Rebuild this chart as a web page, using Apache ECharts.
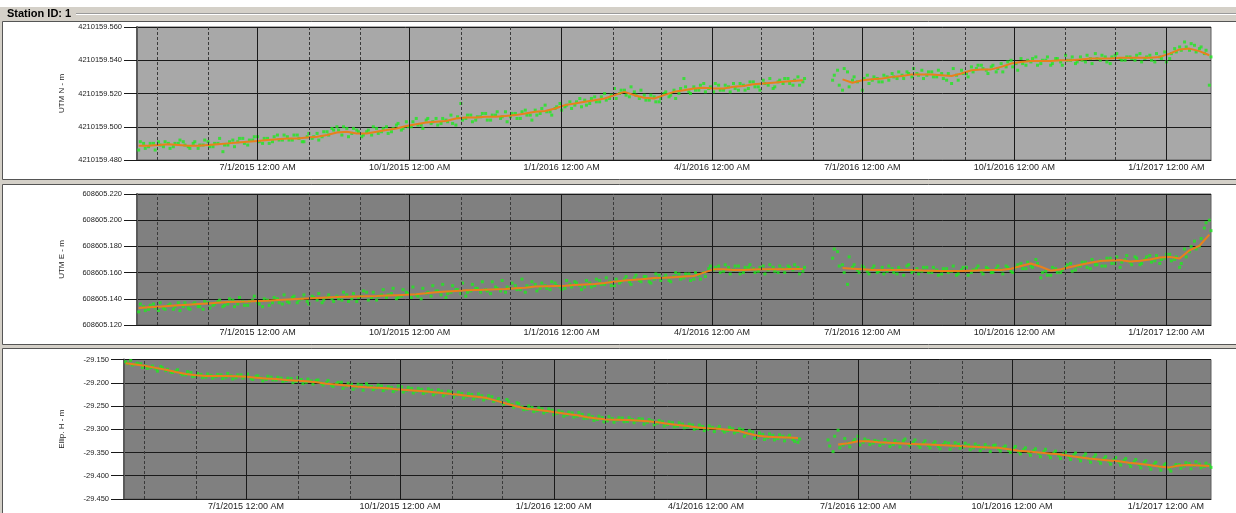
<!DOCTYPE html>
<html><head><meta charset="utf-8">
<script src="https://cdn.jsdelivr.net/npm/echarts@6/dist/echarts.min.js"></script>
<style>html,body{margin:0;padding:0;background:#fff}#c{width:1236px;height:513px}</style>
</head><body><div id="c"></div>
<script>
// ---- axis range & tick labels ----
const axisStart = [2015, 3, 19];
const axisEnd = [2017, 0, 28];
const gridMonths = ['2015-05','2015-06','2015-07','2015-08','2015-09','2015-10','2015-11','2015-12','2016-01','2016-02','2016-03','2016-04','2016-05','2016-06','2016-07','2016-08','2016-09','2016-10','2016-11','2016-12','2017-01'];
const xTickMonths = ['2015-07','2015-10','2016-01','2016-04','2016-07','2016-10','2017-01'];
const xTickLabels = ['7/1/2015 12:00 AM','10/1/2015 12:00 AM','1/1/2016 12:00 AM','4/1/2016 12:00 AM','7/1/2016 12:00 AM','10/1/2016 12:00 AM','1/1/2017 12:00 AM'];
const yTitles = ['UTM N - m','UTM E - m','Ellip. H - m'];
// sampling dates: first sample 2015-04-20; smoothed every 6 days; raw set A every 3 days, raw set B every 3 days starting one day later
const firstDay = [2015, 3, 20];
const smoothStepDays = 6;
const rawStepDays = 3;

// ---- smoothed (orange) values ----
const northSmooth = [4210159.4885,4210159.4885,4210159.489,4210159.4895,4210159.489,4210159.4885,4210159.4885,4210159.489,4210159.4895,4210159.490,4210159.4905,4210159.491,4210159.4915,4210159.492,4210159.4925,4210159.493,4210159.493,4210159.4935,4210159.494,4210159.495,4210159.4965,4210159.497,4210159.496,4210159.496,4210159.497,4210159.498,4210159.499,4210159.5005,4210159.5015,4210159.5025,4210159.503,4210159.5035,4210159.505,4210159.5055,4210159.5055,4210159.506,4210159.506,4210159.5065,4210159.507,4210159.508,4210159.509,4210159.5095,4210159.511,4210159.513,4210159.514,4210159.515,4210159.516,4210159.517,4210159.519,4210159.521,4210159.519,4210159.5175,4210159.517,4210159.519,4210159.521,4210159.522,4210159.523,4210159.5235,4210159.523,4210159.523,4210159.524,4210159.5245,4210159.5255,4210159.526,4210159.5265,4210159.527,4210159.5275,4210159.528,null,null,null,4210159.5285,4210159.5265,4210159.528,4210159.5285,4210159.529,4210159.530,4210159.5305,4210159.5315,4210159.5315,4210159.5315,4210159.531,4210159.5305,4210159.532,4210159.534,4210159.5345,4210159.5345,4210159.536,4210159.538,4210159.539,4210159.5395,4210159.5395,4210159.5395,4210159.540,4210159.540,4210159.5405,4210159.541,4210159.541,4210159.541,4210159.5415,4210159.5415,4210159.5415,4210159.5415,4210159.542,4210159.544,4210159.5465,4210159.547,4210159.5455,4210159.543];
const eastSmooth = [608605.133,608605.1335,608605.134,608605.1345,608605.135,608605.1355,608605.136,608605.1365,608605.137,608605.1375,608605.1378,608605.138,608605.1383,608605.1386,608605.139,608605.1394,608605.1398,608605.1402,608605.1406,608605.141,608605.1414,608605.1416,608605.1418,608605.142,608605.1422,608605.1425,608605.1428,608605.143,608605.1435,608605.1442,608605.145,608605.1455,608605.146,608605.1465,608605.1468,608605.147,608605.1472,608605.1475,608605.148,608605.1485,608605.1493,608605.1496,608605.1498,608605.150,608605.1505,608605.151,608605.1513,608605.152,608605.153,608605.154,608605.1546,608605.1552,608605.1558,608605.156,608605.1565,608605.157,608605.1574,608605.160,608605.1625,608605.1625,608605.162,608605.162,608605.1623,608605.1625,608605.1625,608605.1626,608605.1627,608605.1627,null,null,null,608605.1635,608605.163,608605.1625,608605.162,608605.162,608605.162,608605.162,608605.162,608605.1616,608605.1614,608605.1612,608605.1612,608605.1612,608605.1615,608605.1618,608605.162,608605.162,608605.163,608605.165,608605.167,608605.1645,608605.1615,608605.1625,608605.1643,608605.166,608605.1675,608605.1689,608605.1693,608605.1696,608605.1685,608605.169,608605.170,608605.1715,608605.172,608605.1708,608605.177,608605.1805,608605.189];
const heightSmooth = [-29.158,-29.161,-29.164,-29.168,-29.172,-29.177,-29.181,-29.184,-29.1855,-29.1855,-29.1855,-29.186,-29.187,-29.189,-29.191,-29.192,-29.194,-29.1955,-29.197,-29.199,-29.202,-29.204,-29.206,-29.208,-29.2095,-29.2105,-29.212,-29.214,-29.2155,-29.217,-29.219,-29.221,-29.223,-29.2255,-29.228,-29.230,-29.233,-29.239,-29.245,-29.251,-29.256,-29.258,-29.261,-29.264,-29.267,-29.270,-29.274,-29.277,-29.279,-29.2795,-29.280,-29.281,-29.283,-29.285,-29.288,-29.291,-29.293,-29.296,-29.298,-29.299,-29.301,-29.303,-29.309,-29.314,-29.316,-29.317,-29.318,-29.319,null,null,null,-29.333,-29.330,-29.326,-29.326,-29.328,-29.329,-29.330,-29.331,-29.332,-29.333,-29.334,-29.335,-29.336,-29.337,-29.338,-29.339,-29.340,-29.343,-29.346,-29.348,-29.350,-29.352,-29.354,-29.357,-29.360,-29.363,-29.365,-29.367,-29.369,-29.372,-29.374,-29.377,-29.380,-29.382,-29.378,-29.377,-29.378,-29.379];

// ---- raw daily solutions (green), set A ----
const northRawA = [4210159.486,4210159.490,4210159.488,4210159.490,4210159.491,4210159.488,4210159.490,4210159.488,4210159.490,4210159.491,
4210159.488,4210159.490,4210159.487,4210159.489,4210159.491,4210159.488,4210159.490,4210159.485,4210159.489,4210159.492,
4210159.491,4210159.493,4210159.489,4210159.492,4210159.494,4210159.490,4210159.493,4210159.491,4210159.495,4210159.492,
4210159.494,4210159.492,4210159.495,4210159.491,4210159.494,4210159.493,4210159.496,4210159.494,4210159.497,4210159.499,
4210159.500,4210159.495,4210159.499,4210159.496,4210159.498,4210159.494,4210159.497,4210159.495,4210159.499,4210159.497,
4210159.500,4210159.497,4210159.501,4210159.498,4210159.503,4210159.500,4210159.505,4210159.501,4210159.504,4210159.502,
4210159.505,4210159.502,4210159.504,4210159.507,4210159.501,4210159.514,4210159.505,4210159.507,4210159.504,4210159.506,
4210159.508,4210159.504,4210159.507,4210159.505,4210159.509,4210159.506,4210159.508,4210159.505,4210159.510,4210159.507,
4210159.510,4210159.508,4210159.513,4210159.509,4210159.511,4210159.514,4210159.512,4210159.515,4210159.513,4210159.517,
4210159.516,4210159.514,4210159.518,4210159.515,4210159.520,4210159.517,4210159.523,4210159.520,4210159.522,4210159.518,
4210159.521,4210159.517,4210159.519,4210159.516,4210159.518,4210159.515,4210159.520,4210159.518,4210159.522,4210159.520,
4210159.529,4210159.521,4210159.524,4210159.522,4210159.526,4210159.523,4210159.521,4210159.525,4210159.522,4210159.524,
4210159.526,4210159.522,4210159.525,4210159.523,4210159.527,4210159.524,4210159.528,4210159.525,4210159.523,4210159.527,
4210159.526,4210159.529,4210159.525,4210159.530,4210159.527,null,null,null,null,null,
4210159.528,4210159.534,4210159.522,4210159.533,4210159.528,4210159.527,4210159.522,4210159.531,4210159.528,4210159.529,
4210159.527,4210159.530,4210159.532,4210159.529,4210159.531,4210159.533,4210159.530,4210159.532,4210159.534,4210159.531,
4210159.533,4210159.530,4210159.532,4210159.528,4210159.526,4210159.531,4210159.534,4210159.532,4210159.536,4210159.535,
4210159.537,4210159.534,4210159.536,4210159.533,4210159.538,4210159.536,4210159.540,4210159.538,4210159.541,4210159.537,
4210159.539,4210159.542,4210159.538,4210159.540,4210159.537,4210159.541,4210159.539,4210159.543,4210159.540,4210159.538,
4210159.542,4210159.539,4210159.541,4210159.544,4210159.540,4210159.542,4210159.538,4210159.543,4210159.541,4210159.540,
4210159.542,4210159.540,4210159.544,4210159.541,4210159.543,4210159.539,4210159.542,4210159.545,4210159.541,4210159.547,
4210159.548,4210159.551,4210159.546,4210159.549,4210159.547,4210159.544,4210159.525];
const eastRawA = [608605.130,608605.134,608605.132,608605.136,608605.131,608605.133,608605.135,608605.132,608605.137,608605.134,
608605.133,608605.136,608605.134,608605.132,608605.137,608605.135,608605.138,608605.134,608605.136,608605.139,
608605.136,608605.138,608605.135,608605.139,608605.137,608605.134,608605.139,608605.137,608605.140,608605.136,
608605.138,608605.141,608605.137,608605.140,608605.138,608605.142,608605.139,608605.137,608605.141,608605.140,
608605.142,608605.139,608605.143,608605.140,608605.138,608605.142,608605.145,608605.141,608605.139,608605.143,
608605.141,608605.144,608605.140,608605.142,608605.145,608605.141,608605.143,608605.140,608605.144,608605.142,
608605.146,608605.143,608605.141,608605.145,608605.147,608605.144,608605.142,608605.146,608605.148,608605.145,
608605.147,608605.144,608605.149,608605.146,608605.145,608605.148,608605.150,608605.147,608605.145,608605.149,
608605.151,608605.148,608605.150,608605.147,608605.152,608605.149,608605.148,608605.151,608605.153,608605.150,
608605.149,608605.152,608605.150,608605.154,608605.151,608605.153,608605.150,608605.152,608605.155,608605.153,
608605.156,608605.154,608605.157,608605.153,608605.155,608605.158,608605.156,608605.154,608605.157,608605.159,
608605.156,608605.159,608605.155,608605.158,608605.160,608605.163,608605.162,608605.165,608605.161,608605.164,
608605.162,608605.165,608605.160,608605.164,608605.163,608605.161,608605.165,608605.162,608605.164,608605.160,
608605.163,608605.165,608605.162,608605.164,608605.161,null,null,null,null,null,
608605.171,608605.176,608605.166,608605.151,608605.164,608605.162,608605.165,608605.161,608605.163,608605.160,
608605.164,608605.161,608605.163,608605.159,608605.162,608605.165,608605.160,608605.163,608605.161,608605.164,
608605.160,608605.162,608605.159,608605.163,608605.161,608605.158,608605.162,608605.164,608605.160,608605.163,
608605.161,608605.164,608605.160,608605.163,608605.162,608605.165,608605.161,608605.164,608605.167,608605.163,
608605.165,608605.170,608605.156,608605.161,608605.158,608605.163,608605.160,608605.164,608605.167,608605.162,
608605.165,608605.168,608605.163,608605.166,608605.169,608605.165,608605.171,608605.167,608605.164,608605.170,
608605.168,608605.172,608605.166,608605.170,608605.173,608605.169,608605.167,608605.171,608605.174,608605.170,
608605.164,608605.178,608605.176,608605.184,608605.180,608605.194,608605.200];
const heightRawA = [-29.155,-29.152,-29.160,-29.159,-29.164,-29.167,-29.170,-29.165,-29.174,-29.177,
-29.175,-29.180,-29.183,-29.178,-29.186,-29.182,-29.188,-29.184,-29.187,-29.183,
-29.188,-29.185,-29.189,-29.183,-29.187,-29.191,-29.186,-29.190,-29.193,-29.188,
-29.194,-29.190,-29.195,-29.191,-29.197,-29.193,-29.199,-29.196,-29.195,-29.201,
-29.200,-29.205,-29.202,-29.199,-29.207,-29.203,-29.209,-29.205,-29.202,-29.208,
-29.211,-29.207,-29.213,-29.210,-29.215,-29.209,-29.216,-29.212,-29.218,-29.214,
-29.220,-29.216,-29.222,-29.218,-29.224,-29.220,-29.226,-29.223,-29.229,-29.225,
-29.231,-29.228,-29.234,-29.230,-29.238,-29.242,-29.236,-29.247,-29.243,-29.252,
-29.257,-29.253,-29.260,-29.256,-29.262,-29.259,-29.266,-29.263,-29.269,-29.265,
-29.272,-29.268,-29.276,-29.273,-29.279,-29.275,-29.282,-29.277,-29.280,-29.276,
-29.283,-29.279,-29.281,-29.278,-29.285,-29.282,-29.287,-29.284,-29.290,-29.286,
-29.293,-29.289,-29.295,-29.291,-29.298,-29.294,-29.300,-29.296,-29.298,-29.302,
-29.303,-29.299,-29.305,-29.301,-29.310,-29.306,-29.315,-29.311,-29.318,-29.313,
-29.320,-29.315,-29.317,-29.322,-29.328,null,null,null,null,null,
-29.323,-29.348,-29.302,-29.334,-29.330,-29.326,-29.315,-29.328,-29.324,-29.330,
-29.326,-29.331,-29.327,-29.333,-29.329,-29.325,-29.332,-29.328,-29.334,-29.330,
-29.335,-29.331,-29.337,-29.333,-29.330,-29.336,-29.332,-29.338,-29.334,-29.340,
-29.336,-29.341,-29.338,-29.335,-29.342,-29.339,-29.345,-29.341,-29.348,-29.344,
-29.350,-29.346,-29.352,-29.348,-29.355,-29.351,-29.357,-29.353,-29.359,-29.355,
-29.362,-29.358,-29.364,-29.360,-29.367,-29.363,-29.369,-29.365,-29.371,-29.367,
-29.374,-29.370,-29.376,-29.372,-29.379,-29.375,-29.381,-29.377,-29.385,-29.380,
-29.376,-29.379,-29.374,-29.378,-29.375,-29.380,-29.377];

// ---- raw daily solutions (green), set B (one day after set A) ----
const northRawB = [4210159.491,4210159.487,4210159.490,4210159.486,4210159.489,4210159.491,4210159.487,4210159.490,4210159.492,4210159.489,
4210159.487,4210159.491,4210159.489,4210159.492,4210159.488,4210159.490,4210159.493,4210159.489,4210159.491,4210159.488,
4210159.493,4210159.490,4210159.492,4210159.494,4210159.491,4210159.493,4210159.490,4210159.494,4210159.492,4210159.495,
4210159.492,4210159.495,4210159.493,4210159.491,4210159.496,4210159.494,4210159.492,4210159.497,4210159.495,4210159.498,
4210159.498,4210159.500,4210159.494,4210159.499,4210159.497,4210159.495,4210159.498,4210159.500,4210159.496,4210159.499,
4210159.496,4210159.499,4210159.502,4210159.499,4210159.500,4210159.503,4210159.501,4210159.499,4210159.505,4210159.503,
4210159.501,4210159.505,4210159.503,4210159.502,4210159.506,4210159.504,4210159.507,4210159.503,4210159.506,4210159.508,
4210159.504,4210159.507,4210159.509,4210159.506,4210159.503,4210159.508,4210159.505,4210159.509,4210159.507,4210159.504,
4210159.507,4210159.511,4210159.509,4210159.507,4210159.512,4210159.510,4210159.513,4210159.511,4210159.515,4210159.512,
4210159.513,4210159.517,4210159.515,4210159.518,4210159.516,4210159.519,4210159.517,4210159.522,4210159.519,4210159.524,
4210159.519,4210159.522,4210159.516,4210159.519,4210159.515,4210159.517,4210159.521,4210159.519,4210159.517,4210159.523,
4210159.524,4210159.520,4210159.522,4210159.525,4210159.521,4210159.524,4210159.526,4210159.522,4210159.525,4210159.521,
4210159.523,4210159.526,4210159.522,4210159.527,4210159.524,4210159.522,4210159.526,4210159.529,4210159.524,4210159.528,
4210159.529,4210159.526,4210159.528,4210159.525,4210159.529,null,null,null,null,null,
4210159.531,4210159.525,4210159.535,4210159.524,4210159.530,null,4210159.529,4210159.526,4210159.530,4210159.527,
4210159.531,4210159.528,4210159.530,4210159.533,4210159.529,4210159.532,4210159.535,4210159.531,4210159.529,4210159.533,
4210159.530,4210159.534,4210159.529,4210159.532,4210159.535,4210159.528,4210159.532,4210159.530,4210159.533,4210159.537,
4210159.535,4210159.532,4210159.537,4210159.535,4210159.533,4210159.539,4210159.536,4210159.534,4210159.538,4210159.540,
4210159.541,4210159.537,4210159.540,4210159.542,4210159.538,4210159.541,4210159.537,4210159.540,4210159.542,4210159.539,
4210159.540,4210159.543,4210159.538,4210159.541,4210159.543,4210159.539,4210159.542,4210159.544,4210159.540,4210159.542,
4210159.541,4210159.543,4210159.539,4210159.542,4210159.540,4210159.544,4210159.541,4210159.539,4210159.544,4210159.545,
4210159.546,4210159.548,4210159.550,4210159.545,4210159.548,4210159.546,4210159.542];
const eastRawB = [608605.136,608605.131,608605.135,608605.133,608605.137,608605.132,608605.136,608605.134,608605.131,608605.137,
608605.132,608605.137,608605.134,608605.138,608605.133,608605.136,608605.139,608605.135,608605.140,608605.134,
608605.141,608605.135,608605.138,608605.142,608605.136,608605.140,608605.135,608605.141,608605.137,608605.143,
608605.137,608605.142,608605.139,608605.143,608605.136,608605.141,608605.144,608605.139,608605.143,608605.138,
608605.140,608605.145,608605.138,608605.144,608605.141,608605.146,608605.139,608605.145,608605.142,608605.147,
608605.143,608605.148,608605.141,608605.147,608605.144,608605.149,608605.142,608605.148,608605.145,608605.150,
608605.146,608605.151,608605.144,608605.150,608605.147,608605.152,608605.145,608605.151,608605.148,608605.153,
608605.146,608605.153,608605.148,608605.154,608605.149,608605.152,608605.147,608605.155,608605.150,608605.153,
608605.146,608605.152,608605.148,608605.153,608605.150,608605.147,608605.154,608605.149,608605.152,608605.147,
608605.154,608605.149,608605.155,608605.151,608605.156,608605.150,608605.155,608605.153,608605.157,608605.151,
608605.158,608605.153,608605.157,608605.152,608605.159,608605.154,608605.158,608605.153,608605.160,608605.155,
608605.159,608605.154,608605.160,608605.155,608605.157,608605.165,608605.164,608605.160,608605.166,608605.159,
608605.165,608605.159,608605.164,608605.166,608605.160,608605.164,608605.159,608605.166,608605.161,608605.165,
608605.160,608605.164,608605.166,608605.159,608605.164,null,null,null,null,null,
608605.178,608605.165,608605.160,608605.172,608605.166,608605.160,608605.164,608605.159,608605.165,608605.161,
608605.159,608605.165,608605.160,608605.164,608605.158,608605.166,608605.161,608605.159,608605.164,608605.160,
608605.164,608605.158,608605.163,608605.160,608605.165,608605.159,608605.164,608605.158,608605.162,608605.165,
608605.159,608605.163,608605.160,608605.165,608605.159,608605.164,608605.160,608605.166,608605.163,608605.168,
608605.164,608605.167,608605.160,608605.158,608605.164,608605.160,608605.162,608605.166,608605.161,608605.165,
608605.168,608605.164,608605.170,608605.166,608605.165,608605.171,608605.167,608605.172,608605.168,608605.173,
608605.166,608605.171,608605.167,608605.172,608605.168,608605.173,608605.170,608605.174,608605.169,608605.172,
608605.167,608605.172,608605.180,608605.178,608605.186,608605.198,608605.192];
const heightRawB = [-29.159,-29.162,-29.158,-29.167,-29.169,-29.164,-29.175,-29.168,-29.171,-29.178,
-29.172,-29.183,-29.176,-29.187,-29.180,-29.189,-29.181,-29.190,-29.182,-29.191,
-29.180,-29.192,-29.183,-29.190,-29.181,-29.193,-29.185,-29.196,-29.186,-29.194,
-29.188,-29.197,-29.190,-29.200,-29.189,-29.202,-29.192,-29.203,-29.194,-29.205,
-29.195,-29.208,-29.199,-29.212,-29.201,-29.214,-29.203,-29.216,-29.206,-29.215,
-29.205,-29.217,-29.208,-29.219,-29.207,-29.220,-29.210,-29.222,-29.212,-29.223,
-29.213,-29.226,-29.215,-29.228,-29.218,-29.231,-29.220,-29.233,-29.223,-29.235,
-29.224,-29.237,-29.228,-29.240,-29.234,-29.246,-29.240,-29.253,-29.245,-29.258,
-29.250,-29.262,-29.254,-29.265,-29.256,-29.269,-29.260,-29.272,-29.263,-29.274,
-29.264,-29.277,-29.269,-29.281,-29.272,-29.284,-29.273,-29.285,-29.275,-29.284,
-29.275,-29.286,-29.277,-29.289,-29.279,-29.291,-29.281,-29.293,-29.284,-29.295,
-29.286,-29.297,-29.289,-29.300,-29.291,-29.303,-29.293,-29.305,-29.294,-29.306,
-29.296,-29.308,-29.299,-29.315,-29.303,-29.320,-29.308,-29.322,-29.310,-29.323,
-29.312,-29.325,-29.313,-29.326,-29.321,null,null,null,null,null,
-29.336,-29.315,-29.340,-29.320,-29.338,-29.322,-29.334,-29.321,-29.333,-29.324,
-29.335,-29.322,-29.337,-29.324,-29.338,-29.321,-29.336,-29.323,-29.339,-29.325,
-29.340,-29.327,-29.342,-29.328,-29.343,-29.329,-29.341,-29.330,-29.344,-29.332,
-29.346,-29.333,-29.348,-29.334,-29.347,-29.336,-29.350,-29.337,-29.353,-29.340,
-29.356,-29.342,-29.359,-29.343,-29.361,-29.347,-29.363,-29.349,-29.365,-29.351,
-29.368,-29.353,-29.371,-29.355,-29.373,-29.359,-29.375,-29.361,-29.377,-29.363,
-29.380,-29.365,-29.383,-29.368,-29.386,-29.371,-29.388,-29.374,-29.390,-29.376,
-29.384,-29.372,-29.385,-29.370,-29.383,-29.373,-29.382];

// ---- helpers ----
function dayTs(base, offsetDays) { return new Date(base[0], base[1], base[2] + offsetDays).getTime(); }
function monthTs(s) { const p = s.split('-'); return new Date(+p[0], +p[1] - 1, 1).getTime(); }
function pairs(values, step, shift) { return values.map((v, i) => [dayTs(firstDay, i * step + (shift || 0)), v]); }

const panels = [
  {top: 27, height: 133, left: 137, bg: '#a8a8a8', min: 4210159.48, max: 4210159.56, interval: 0.02, rawA: northRawA, rawB: northRawB, smooth: northSmooth},
  {top: 194, height: 131, left: 137, bg: '#808080', min: 608605.12, max: 608605.22, interval: 0.02, rawA: eastRawA, rawB: eastRawB, smooth: eastSmooth},
  {top: 359.5, height: 139.5, left: 124, bg: '#808080', min: -29.45, max: -29.15, interval: 0.05, rawA: heightRawA, rawB: heightRawB, smooth: heightSmooth}
];
const FONT = 'Liberation Sans, Arial, sans-serif';
const GREEN = '#1fe81f';

const grid = [], xAxis = [], yAxis = [], series = [];
panels.forEach((p, k) => {
  grid.push({left: p.left, top: p.top, right: 25, height: p.height, show: true, backgroundColor: p.bg, borderColor: '#5e5e5e', borderWidth: 1, containLabel: false});
  xAxis.push({type: 'time', gridIndex: k, min: dayTs(axisStart, 0), max: dayTs(axisEnd, 0),
    axisLine: {show: true, lineStyle: {color: '#1a1a1a', width: 1}}, axisTick: {show: false}, axisLabel: {show: false}, splitLine: {show: false}});
  yAxis.push({type: 'value', gridIndex: k, min: p.min, max: p.max, interval: p.interval,
    name: yTitles[k], nameLocation: 'middle', nameRotate: 90, nameGap: p.left - 66,
    nameTextStyle: {fontSize: 8, color: '#222', fontFamily: FONT},
    axisLine: {show: true, lineStyle: {color: '#5a5a5a', width: 2}},
    axisTick: {show: true, length: 13, lineStyle: {color: '#1a1a1a', width: 1}},
    axisLabel: {fontSize: 7.5, color: '#222', fontFamily: FONT, margin: 15, formatter: v => v.toFixed(3)},
    splitLine: {show: true, lineStyle: {color: '#1a1a1a', width: 1}}});
  const ml = gridMonths.map(m => {
    const qi = xTickMonths.indexOf(m);
    return {xAxis: monthTs(m),
      lineStyle: qi >= 0 ? {type: 'solid', color: '#1a1a1a', width: 1} : {type: [3, 2], color: '#3a3a3a', width: 1},
      label: qi >= 0 ? {show: true, formatter: xTickLabels[qi]} : {show: false}};
  });
  series.push({type: 'line', xAxisIndex: k, yAxisIndex: k, data: [], z: 1, silent: true,
    markLine: {silent: true, symbol: ['none', 'none'], animation: false,
      label: {position: 'start', distance: 3, fontSize: 9, color: '#222', fontFamily: FONT},
      data: ml}});
  series.push({type: 'scatter', xAxisIndex: k, yAxisIndex: k, data: pairs(p.rawA, rawStepDays, 0), symbol: 'rect', symbolSize: 3,
    itemStyle: {color: GREEN}, z: 3, silent: true});
  series.push({type: 'scatter', xAxisIndex: k, yAxisIndex: k, data: pairs(p.rawB, rawStepDays, 1), symbol: 'rect', symbolSize: 3,
    itemStyle: {color: GREEN}, z: 3, silent: true});
  series.push({type: 'line', xAxisIndex: k, yAxisIndex: k, data: pairs(p.smooth, smoothStepDays, 0), showSymbol: false, connectNulls: false,
    lineStyle: {color: '#e8801c', width: 2}, z: 4, silent: true});
});

const chart = echarts.init(document.getElementById('c'), null, {renderer: 'canvas'});
chart.setOption({
  animation: false,
  backgroundColor: '#d4d0c8',
  graphic: [
    {type: 'rect', shape: {x: 0, y: 0, width: 1236, height: 7}, style: {fill: '#ffffff'}, z: -10},
    {type: 'line', shape: {x1: 76, y1: 13.5, x2: 1236, y2: 13.5}, style: {stroke: '#9a9a9a', lineWidth: 1}, z: -9},
    {type: 'line', shape: {x1: 76, y1: 14.5, x2: 1236, y2: 14.5}, style: {stroke: '#ffffff', lineWidth: 1}, z: -9},
    {type: 'text', x: 7, y: 14, style: {text: 'Station ID: 1', font: 'bold 11px Liberation Sans, Arial, sans-serif', fill: '#000', verticalAlign: 'middle'}, z: -9},
    {type: 'rect', shape: {x: 2.5, y: 21.5, width: 1240, height: 158}, style: {fill: '#ffffff', stroke: '#555', lineWidth: 1}, z: -10},
    {type: 'rect', shape: {x: 2.5, y: 184.5, width: 1240, height: 160}, style: {fill: '#ffffff', stroke: '#555', lineWidth: 1}, z: -10},
    {type: 'rect', shape: {x: 2.5, y: 348.5, width: 1240, height: 170}, style: {fill: '#ffffff', stroke: '#555', lineWidth: 1}, z: -10}
  ],
  grid, xAxis, yAxis, series
});
</script></body></html>
